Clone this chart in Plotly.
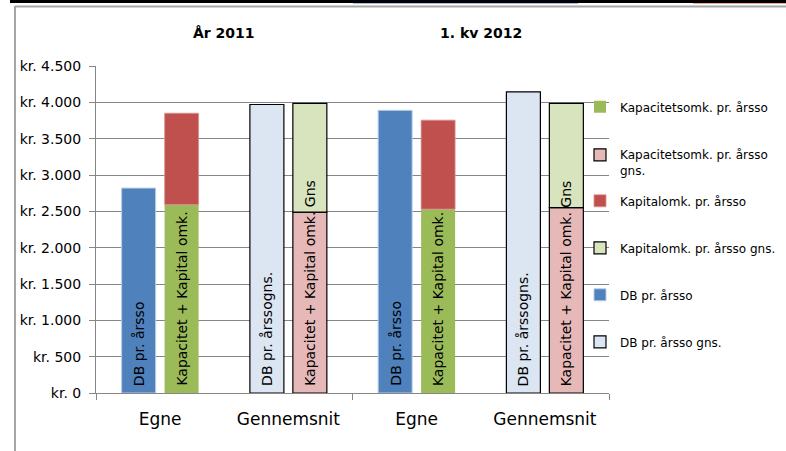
import plotly.graph_objects as go

# ---- data ----
categories = ["Egne", "Gennemsnit", "Egne", "Gennemsnit"]
periods = ["År 2011", "1. kv 2012"]
egne_x = [0, 2]
gns_x = [1, 3]
db_egne = [2820, 3890]
kapacitet_egne = [2590, 2530]
kapital_egne = [1260, 1225]
db_gns = [3970, 4145]
kapacitet_gns = [2490, 2550]
kapital_gns = [1495, 1435]
y_ticks = [0, 500, 1000, 1500, 2000, 2500, 3000, 3500, 4000, 4500]
y_ticklabels = ["kr. 0", "kr. 500", "kr. 1.000", "kr. 1.500", "kr. 2.000",
                "kr. 2.500", "kr. 3.000", "kr. 3.500", "kr. 4.000", "kr. 4.500"]

FONT = "DejaVu Sans, Verdana, sans-serif"
W = 0.265
OFF_L = -0.3
OFF_R = 0.035
GRID = "#868686"

fig = go.Figure()

series = [
    # name, x, y, base, offset, fill, line color, line width
    ("Kapacitetsomk. pr. årsso", egne_x, kapacitet_egne, None, OFF_R, "#9BBB59", "#9BBB59", 0),
    ("Kapacitetsomk. pr. årsso<br>gns.", gns_x, kapacitet_gns, None, OFF_R, "#E6B9B8", "#000000", 1.2),
    ("Kapitalomk. pr. årsso", egne_x, kapital_egne, kapacitet_egne, OFF_R, "#C0504D", "#D99694", 0.8),
    ("Kapitalomk. pr. årsso gns.", gns_x, kapital_gns, kapacitet_gns, OFF_R, "#D7E4BD", "#000000", 1.2),
    ("DB pr. årsso", egne_x, db_egne, None, OFF_L, "#4F81BD", "#B9CDE5", 1),
    ("DB pr. årsso gns.", gns_x, db_gns, None, OFF_L, "#DCE6F2", "#000000", 1.2),
]

legend_centers_px = [107, 163, 201, 248, 295, 342]
PLOT_TOP, PLOT_BOT, PLOT_L, PLOT_R = 66, 393, 96, 609

def ypaper(py):
    return (PLOT_BOT - py) / (PLOT_BOT - PLOT_TOP)

def xpaper(px):
    return (px - PLOT_L) / (PLOT_R - PLOT_L)

legend_layouts = {}
for i, (name, xs, ys, base, off, fill, lc, lw) in enumerate(series):
    lid = "legend" if i == 0 else f"legend{i+1}"
    fig.add_trace(go.Bar(
        name=name, x=xs, y=ys, base=base, width=W, offset=off,
        marker=dict(color=fill, line=dict(color=lc, width=lw)),
        legend=lid, showlegend=True, hoverinfo="skip",
    ))
    legend_layouts[lid] = dict(
        x=xpaper(580), xanchor="left",
        y=ypaper(legend_centers_px[i]), yanchor="middle",
        bgcolor="rgba(0,0,0,0)", borderwidth=0,
        font=dict(family=FONT, size=12, color="#000000"),
        valign="top",
    )

annotations = []
lab_font = dict(family=FONT, size=14, color="#000000")
# in-bar labels
for xi in egne_x:
    annotations.append(dict(x=xi + OFF_L + W / 2, y=0, xref="x", yref="y",
                            text="DB pr. årsso", textangle=-90, showarrow=False,
                            yanchor="bottom", yshift=5, font=lab_font))
    annotations.append(dict(x=xi + OFF_R + W / 2, y=0, xref="x", yref="y",
                            text="Kapacitet + Kapital omk.", textangle=-90, showarrow=False,
                            yanchor="bottom", yshift=5, font=lab_font))
for xi in gns_x:
    annotations.append(dict(x=xi + OFF_L + W / 2, y=0, xref="x", yref="y",
                            text="DB pr. årssogns.", textangle=-90, showarrow=False,
                            yanchor="bottom", yshift=5, font=lab_font))
    annotations.append(dict(x=xi + OFF_R + W / 2, y=0, xref="x", yref="y",
                            text="Kapacitet + Kapital omk. Gns", textangle=-90, showarrow=False,
                            yanchor="bottom", yshift=5, font=lab_font))
# period titles
for k, p in enumerate(periods):
    annotations.append(dict(x=(egne_x[k] + gns_x[k]) / 2, y=ypaper(33), xref="x", yref="paper",
                            text=f"<b>{p}</b>", showarrow=False, yanchor="middle",
                            font=dict(family=FONT, size=14, color="#000000")))

shapes = [
    # top black cell border
    dict(type="line", xref="paper", yref="paper", x0=xpaper(10), x1=xpaper(786),
         y0=ypaper(1.5), y1=ypaper(1.5), line=dict(color="#000000", width=3)),
    dict(type="line", xref="paper", yref="paper", x0=xpaper(353), x1=xpaper(578),
         y0=ypaper(3.5), y1=ypaper(3.5), line=dict(color="#9DC3E6", width=1)),
    dict(type="line", xref="paper", yref="paper", x0=xpaper(693), x1=xpaper(786),
         y0=ypaper(3.5), y1=ypaper(3.5), line=dict(color="#F4B183", width=1)),
    # chart frame
    dict(type="line", xref="paper", yref="paper", x0=xpaper(15), x1=xpaper(15),
         y0=ypaper(6), y1=ypaper(451), line=dict(color="#A6A6A6", width=2)),
    dict(type="line", xref="paper", yref="paper", x0=xpaper(15), x1=xpaper(786),
         y0=ypaper(6.5), y1=ypaper(6.5), line=dict(color="#A6A6A6", width=2)),
]

fig.update_layout(
    width=786, height=451, autosize=False,
    margin=dict(l=PLOT_L, r=786 - PLOT_R, t=PLOT_TOP, b=451 - PLOT_BOT, autoexpand=False),
    paper_bgcolor="#FFFFFF", plot_bgcolor="#FFFFFF",
    barmode="overlay",
    annotations=annotations,
    shapes=shapes,
    font=dict(family=FONT, size=13, color="#000000"),
    xaxis=dict(range=[-0.5, 3.5], tickvals=[0, 1, 2, 3], ticktext=categories,
               showgrid=False, zeroline=False, showline=True, linecolor=GRID, linewidth=1,
               ticks="", tickfont=dict(family=FONT, size=17, color="#000000"),
               ticklabelstandoff=11,
               minor=dict(tickvals=[-0.5, 1.5, 3.5], ticks="outside", ticklen=6,
                          tickcolor=GRID, showgrid=False)),
    yaxis=dict(range=[0, 4500], tickvals=y_ticks, ticktext=y_ticklabels,
               showgrid=True, gridcolor=GRID, gridwidth=1, zeroline=False,
               showline=True, linecolor=GRID, linewidth=1,
               ticks="outside", ticklen=6, tickcolor=GRID,
               tickfont=dict(family=FONT, size=14, color="#000000"),
               ticklabelstandoff=5),
    **legend_layouts,
)

fig.write_html("out.html", config={"displayModeBar": False, "responsive": False},
               post_script="document.body.style.margin='0';")
